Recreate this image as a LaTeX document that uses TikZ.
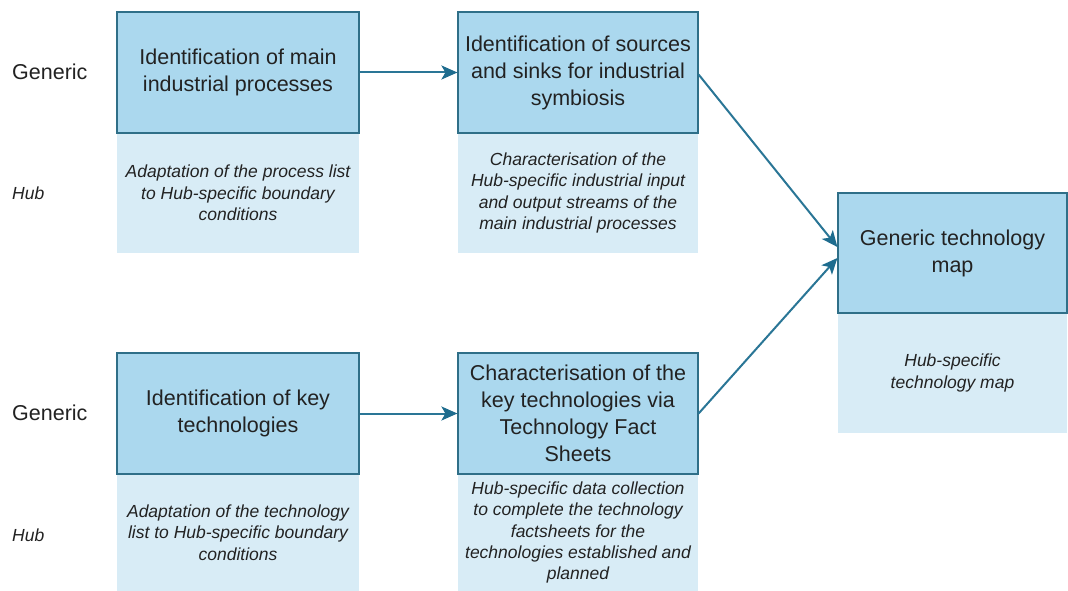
\documentclass[tikz,border=0pt]{standalone}
\usepackage{fontspec}
\setmainfont{Liberation Sans}
\usetikzlibrary{arrows.meta}
\definecolor{genfill}{HTML}{ABD8EE}
\definecolor{genline}{HTML}{2F6F88}
\definecolor{hubfill}{HTML}{D8ECF6}
\definecolor{arrowcol}{HTML}{2A7696}
\definecolor{headcol}{HTML}{1E6C8E}
\definecolor{txt}{HTML}{222222}
\tikzset{
  genbox/.style={draw=genline, line width=1.2pt, fill=genfill, inner sep=0pt,
    minimum height=121pt, align=center, text=txt,
    font=\fontsize{21.5}{27}\selectfont},
  hubbox/.style={fill=hubfill, inner sep=0pt, minimum height=120pt, align=center,
    text=txt, font=\fontsize{17.5}{21.3}\selectfont\itshape},
  rowlabel/.style={anchor=west, inner sep=0pt, text=txt,
    font=\fontsize{21.5}{26}\selectfont},
  hublabel/.style={anchor=west, inner sep=0pt, text=txt,
    font=\fontsize{17.5}{21}\selectfont\itshape},
  flow/.style={draw=arrowcol, line width=2pt,
    -{Stealth[length=16pt,width=14pt,inset=4pt,color=headcol]}},
}
\begin{document}
\begin{tikzpicture}[x=1pt,y=-1pt]
\useasboundingbox[fill=white] (0,0) rectangle (1068,591);

% row labels
\node[rowlabel] (g1) at (12,72) {Generic};
\node[hublabel] (h1) at (12,193) {Hub};
\node[rowlabel] (g2) at (12,413) {Generic};
\node[hublabel] (h2) at (12,535) {Hub};

% hub-specific boxes
\node[hubbox, minimum width=242pt] (p1h) at (238,193)
  {Adaptation of the process list\\to Hub-specific boundary\\conditions};
\node[hubbox, minimum width=240pt] (p2h) at (578,193)
  {Characterisation of the\\Hub-specific industrial input\\and output streams of the\\main industrial processes};
\node[hubbox, minimum width=242pt, minimum height=117pt] (t1h) at (238,532.5)
  {Adaptation of the technology\\list to Hub-specific boundary\\conditions};
\node[hubbox, minimum width=240pt, minimum height=117pt] (t2h) at (578,532.5)
  {Hub-specific data collection\\to complete the technology\\factsheets for the\\technologies established and\\planned};
\node[hubbox, minimum width=229pt] (mh) at (952.5,373)
  {Hub-specific\\technology map};

% generic boxes
\node[genbox, minimum width=242pt] (p1) at (238,72.5)
  {Identification of main\\industrial processes};
\node[genbox, minimum width=240pt] (p2) at (578,72.5)
  {Identification of sources\\and sinks for industrial\\symbiosis};
\node[genbox, minimum width=242pt] (t1) at (238,413.5)
  {Identification of key\\technologies};
\node[genbox, minimum width=240pt] (t2) at (578,413.5)
  {Characterisation of the\\key technologies via\\Technology Fact\\Sheets};
\node[genbox, minimum width=229pt, minimum height=120pt] (m) at (952.5,253)
  {Generic technology\\map};

% connectors
\draw[flow] (p1.east) -- (p2.west);
\draw[flow] (t1.east) -- (t2.west);
\draw[flow] ([yshift=-2pt]p2.east) -- ([yshift=6pt]m.west);
\draw[flow] (t2.east) -- ([yshift=-5pt]m.west);
\end{tikzpicture}
\end{document}
